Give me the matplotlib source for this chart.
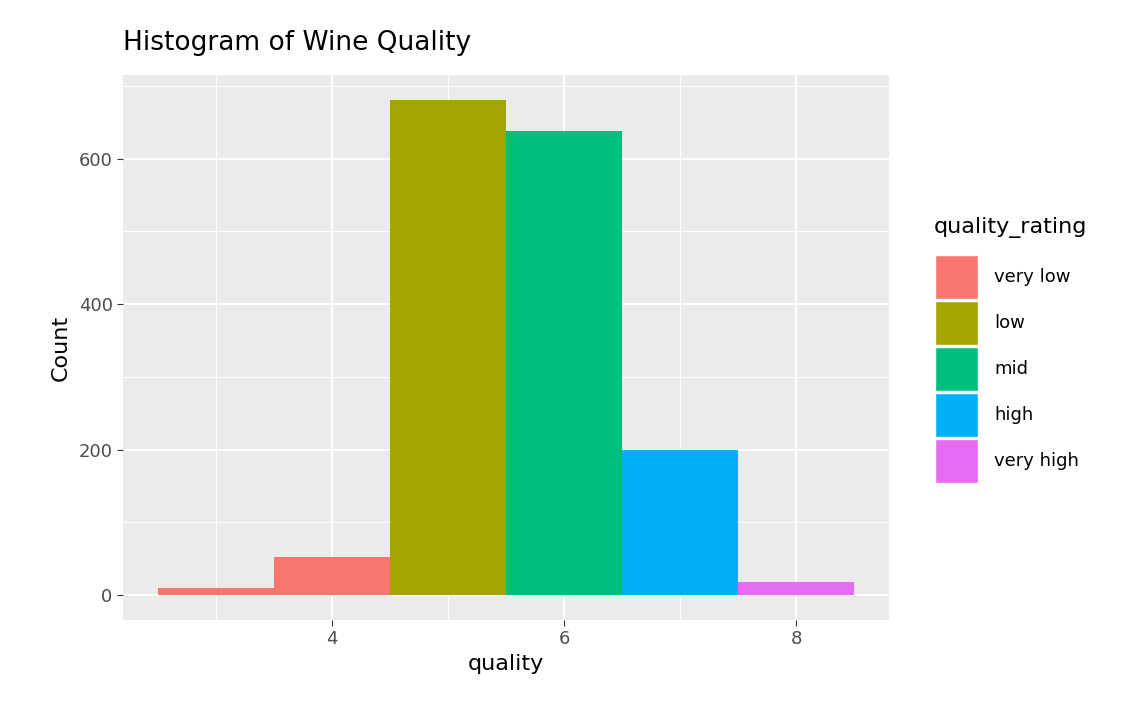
import matplotlib
matplotlib.use("Agg")
import matplotlib.pyplot as plt
from matplotlib.patches import Rectangle

quality = [3, 4, 5, 6, 7, 8]
counts = [10, 53, 681, 638, 199, 18]
ratings = ["very low", "very low", "low", "mid", "high", "very high"]
legend_labels = ["very low", "low", "mid", "high", "very high"]
colors = {"very low": "#F8766D", "low": "#A3A500", "mid": "#00BF7D", "high": "#00B0F6", "very high": "#E76BF3"}

fig = plt.figure(figsize=(11.3, 7.18), dpi=100)
ax = fig.add_axes([123/1130, 1-620/718, 766/1130, 545/718])
ax.set_facecolor("#EBEBEB")
ax.bar(quality, counts, width=1.0, color=[colors[r] for r in ratings], zorder=3)
ax.set_xlim(2.2, 8.8)
ax.set_ylim(-34.05, 715.05)
ax.set_xticks([4, 6, 8])
ax.set_xticks([3, 5, 7], minor=True)
ax.set_yticks([0, 200, 400, 600])
ax.set_yticks([100, 300, 500, 700], minor=True)
ax.grid(True, which="major", color="white", linewidth=1.4, zorder=0)
ax.grid(True, which="minor", color="white", linewidth=0.7, zorder=0)
for s in ax.spines.values():
    s.set_visible(False)
ax.tick_params(which="major", length=4, color="#333333", labelsize=13, labelcolor="#4D4D4D")
ax.tick_params(which="minor", length=0)
ax.set_xlabel("quality", fontsize=16, labelpad=4)
ax.set_ylabel("Count", fontsize=16, labelpad=6)
fig.text(123/1130, 1-43/718, "Histogram of Wine Quality", fontsize=19, va="center", ha="left")

fig.text(934/1130, 1-228/718, "quality_rating", fontsize=16, va="center", ha="left")
for i, lab in enumerate(legend_labels):
    y0 = 255 + i*46
    fig.patches.append(Rectangle((935/1130, 1-(y0+44)/718), 43/1130, 44/718,
                                 transform=fig.transFigure, facecolor=colors[lab],
                                 edgecolor="white", linewidth=1))
    fig.text(994/1130, 1-(y0+22)/718, lab, fontsize=13, va="center", ha="left")

fig.savefig("out.png", dpi=100)
